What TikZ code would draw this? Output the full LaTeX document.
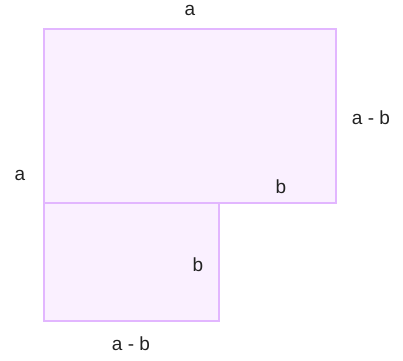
\documentclass[tikz,border=0pt]{standalone}
\usepackage{fontspec}
\setmainfont{Liberation Sans}
\definecolor{edgepurple}{HTML}{E2B6FF}
\definecolor{fillpurple}{HTML}{FAF0FF}
\definecolor{labelgray}{HTML}{222222}
\tikzset{
  sidebox/.style={draw=edgepurple, fill=fillpurple, line width=2pt},
  sidelabel/.style={text=labelgray, font=\fontsize{19}{22}\selectfont, inner sep=0pt}
}
\begin{document}
\begin{tikzpicture}[x=1pt,y=1pt]
\useasboundingbox (0,0) rectangle (403,360);
% Upper rectangle a by a-b, lower square b by a-b
\draw[sidebox] (44,157) rectangle (336,331);
\draw[sidebox] (44,39) rectangle (219,157);
\node[sidelabel] (topa) at (190,350) {a};
\node[sidelabel] (righta) at (371,242) {a - b};
\node[sidelabel] (lefta) at (20,185) {a};
\node[sidelabel] (upperb) at (281,173) {b};
\node[sidelabel] (lowerb) at (198,95) {b};
\node[sidelabel] (bottoma) at (131,16) {a - b};
\end{tikzpicture}
\end{document}
